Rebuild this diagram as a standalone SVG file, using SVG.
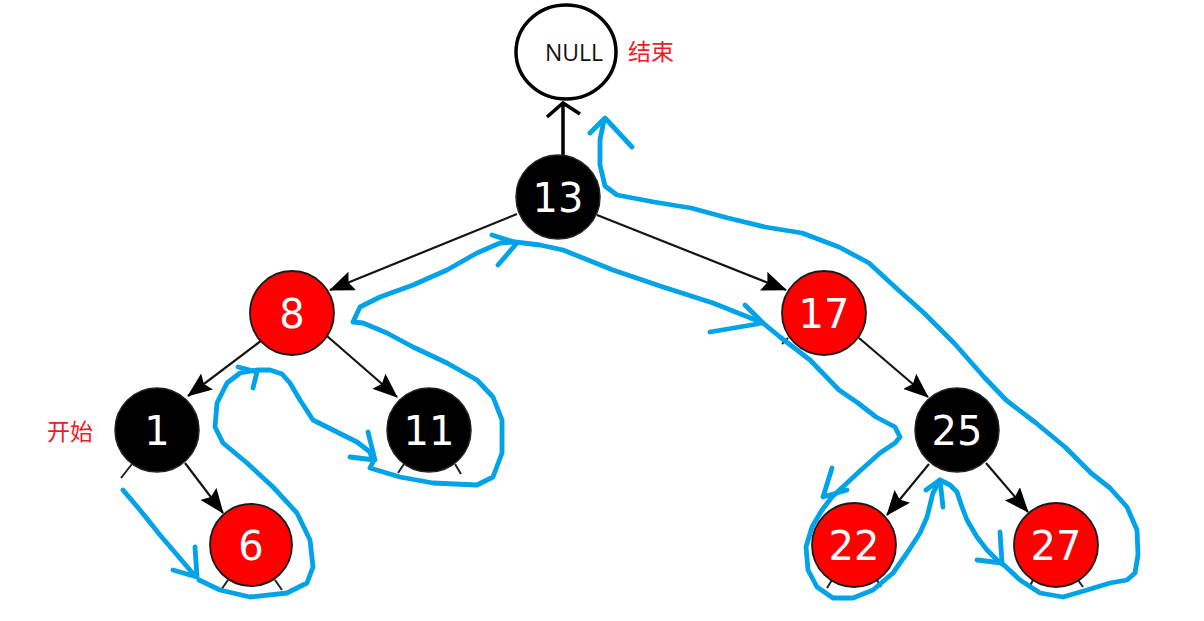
<svg xmlns="http://www.w3.org/2000/svg" width="1204" height="621" viewBox="0 0 1204 621">
<defs>
<marker id="ah" viewBox="0 0 25 20" refX="24" refY="10" markerWidth="25" markerHeight="20" markerUnits="userSpaceOnUse" orient="auto">
<path d="M0,0 L25,10 L0,20 L4,10 z" fill="#000"/>
</marker>
<style>
.edge{stroke:#141414;stroke-width:2.2;fill:none;marker-end:url(#ah)}
.stub{stroke:#222;stroke-width:2;fill:none}
.blk{fill:#000;stroke:#222;stroke-width:1.5}
.red{fill:#ff0000;stroke:#1a1a1a;stroke-width:1.8}
.num{font-family:"DejaVu Sans",sans-serif;font-size:40px;fill:#fff;text-anchor:middle}
.lbl{font-family:"Noto Sans CJK SC",sans-serif;font-size:23px;fill:#ed1c24}
.blue{stroke:#00a2e8;stroke-width:4.8;fill:none;stroke-linecap:round;stroke-linejoin:round}
</style>
</defs>
<rect width="1204" height="621" fill="#fff"/>

<g id="connectors">
<line class="edge" x1="517" y1="214" x2="330" y2="290"/>
<line class="edge" x1="597" y1="215" x2="786" y2="290"/>
<line class="edge" x1="262" y1="340" x2="188" y2="396"/>
<line class="edge" x1="327" y1="336" x2="397" y2="397"/>
<line class="edge" x1="185" y1="463" x2="223" y2="513"/>
<line class="edge" x1="859" y1="338" x2="928" y2="397"/>
<line class="edge" x1="929" y1="464" x2="887" y2="515"/>
<line class="edge" x1="986" y1="463" x2="1028" y2="512"/>
<path d="M563,155 L563,103 M547,117 L563,103 L580,114" stroke="#000" stroke-width="3.5" fill="none"/>
<path class="stub" d="M132,464 L121,478 M228,580 L221,590 M275,580 L282,590 M404,464 L398,473 M455,464 L461,474 M788,338 L782,344 M832,580 L827,588 M877,580 L881,587 M1033,580 L1029,588 M1078,580 L1083,587"/>
</g>

<g id="node-null">
<ellipse cx="566" cy="52" rx="50" ry="47" fill="#fff" stroke="#000" stroke-width="3.5"/>
<text x="574" y="61" font-family="'Open Sans',sans-serif" font-size="23" fill="#111" text-anchor="middle">NULL</text>
</g>
<text class="lbl" x="628" y="60">结束</text>
<text class="lbl" x="47" y="440">开始</text>

<g id="node-13"><circle class="blk" cx="558" cy="197" r="42"/><text class="num" x="558" y="212">13</text></g>
<g id="node-8"><circle class="red" cx="292" cy="313" r="42"/><text class="num" x="292" y="328">8</text></g>
<g id="node-17"><circle class="red" cx="824" cy="313" r="42"/><text class="num" x="824" y="328">17</text></g>
<g id="node-1"><circle class="blk" cx="157" cy="430" r="42"/><text class="num" x="157" y="445">1</text></g>
<g id="node-11"><circle class="blk" cx="429" cy="430" r="42"/><text class="num" x="429" y="445">11</text></g>
<g id="node-25"><circle class="blk" cx="957" cy="430" r="42"/><text class="num" x="957" y="445">25</text></g>
<g id="node-6"><circle class="red" cx="251" cy="545" r="41"/><text class="num" x="251" y="560">6</text></g>
<g id="node-22"><circle class="red" cx="854" cy="545" r="42"/><text class="num" x="854" y="560">22</text></g>
<g id="node-27"><circle class="red" cx="1056" cy="545" r="42"/><text class="num" x="1056" y="560">27</text></g>

<g id="traversal">
<path class="blue" d="M123,490 L140,510 L160,535 L178,556 L195,576 M173,570 L197,577 L195,547"/>
<path class="blue" d="M199,580 L220,590 L250,597 L287,593 L307,583 L313,567 L310,540 L297,513 L273,487 L247,463 L223,443 L215,427 L217,403 L227,383 L240,373 L257,370 L270,370 L282,374 L290,383 L300,400 L313,420 L333,430 L357,442 L370,452 L373,462 L370,468 L400,477 L433,483 L477,485 L493,477 L502,453 L502,420 L493,397 L477,380 L447,363 L413,347 L387,333 L363,323 L353,322 L360,307 L380,297 L413,285 L447,270 L477,253 L500,243 L515,242 L540,245 L563,250 L613,270 L663,287 L713,303 L763,323 L780,337 L810,360 L839,390 L858,403 L876,417 L895,427 L900,437 L895,443 L880,453 L861,470 L847,483 L832,497 L822,510 L812,527 L806,547 L808,570 L817,587 L833,598 L853,598 L873,590 L893,573 L907,553 L920,533 L927,517 L933,493 L940,480 L950,485 L957,492 L962,507 L967,520 L977,537 L987,550 L997,560 L1005,566 L1020,580 L1040,593 L1063,597 L1087,590 L1110,583 L1127,580 L1135,573 L1138,555 L1137,530 L1127,507 L1110,488 L1091,473 L1065,447 L1036,423 L1006,400 L984,377 L954,343 L924,313 L895,287 L869,263 L839,247 L802,233 L765,227 L728,218 L691,208 L654,202 L617,195 L605,186 L600,165 L600,140 L604,120"/>
<path class="blue" d="M238,367 L257,372 L253,388 M368,432 L375,460 L350,457 M492,235 L517,243 L498,265 M745,305 L763,323 L710,332 M832,468 L823,497 L847,490 M926,490 L940,480 L943,507 M1000,532 L1002,563 L977,560 M590,133 L605,118 L632,147"/>
</g>
</svg>
